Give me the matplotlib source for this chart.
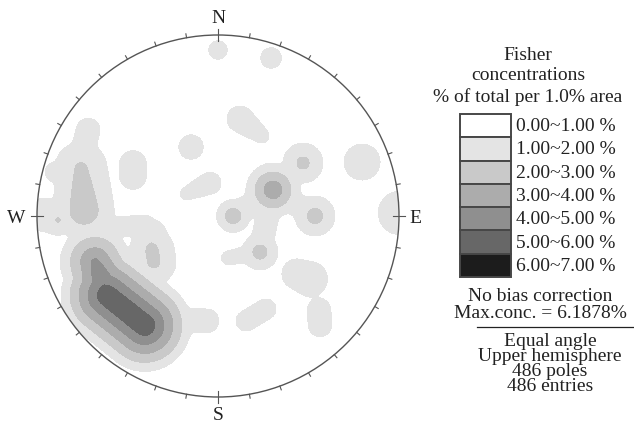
import numpy as np
import matplotlib
matplotlib.use("Agg")
import matplotlib.pyplot as plt
from matplotlib.patches import Circle, Rectangle
from matplotlib.lines import Line2D

# concentration axes read off the net, in unit-circle coordinates:
# each entry is a short axis (u0,v0)-(u1,v1), the peak % at each end and the reach
# of the density cone around it

# small isolated clusters
iso_u0 = [0.000, 0.293, 0.122, -0.149, -0.470, -0.044, 0.796, 1.006, 0.436, 0.265, 0.558]
iso_v0 = [0.917, 0.873, 0.536, 0.381, 0.287, 0.182, 0.298, 0.017, -0.320, -0.514, -0.519]
iso_u1 = [0.000, 0.293, 0.243, -0.149, -0.470, -0.177, 0.796, 1.006, 0.508, 0.155, 0.564]
iso_v1 = [0.917, 0.873, 0.442, 0.381, 0.221, 0.122, 0.298, 0.017, -0.348, -0.580, -0.602]
iso_p0 = [1.7, 1.7, 1.7, 1.7, 1.7, 1.7, 1.7, 1.7, 1.8, 1.65, 1.65]
iso_p1 = [1.7, 1.7, 1.3, 1.7, 1.7, 1.3, 1.7, 1.7, 2.08, 1.65, 1.65]
iso_reach = [0.127, 0.141, 0.177, 0.166, 0.182, 0.149, 0.243, 0.293, 0.188, 0.144, 0.166]

# eastern star-shaped group: centre, four spots, four arms and a tail
east_u0 = [0.304, 0.470, 0.536, 0.083, 0.232, 0.304, 0.304, 0.304, 0.304, 0.232]
east_v0 = [0.144, 0.293, 0.000, 0.000, -0.199, 0.144, 0.144, 0.144, 0.144, -0.199]
east_u1 = [0.304, 0.470, 0.536, 0.083, 0.232, 0.470, 0.536, 0.083, 0.232, 0.055]
east_v1 = [0.144, 0.293, 0.000, 0.000, -0.199, 0.293, 0.000, 0.000, -0.199, -0.232]
east_p0 = [4.0, 2.48, 2.67, 2.95, 2.71, 1.6, 1.6, 1.6, 1.6, 1.6]
east_p1 = [4.0, 2.48, 2.67, 2.95, 2.71, 1.6, 1.6, 1.6, 1.6, 1.4]
east_reach = [0.199, 0.185, 0.177, 0.138, 0.157, 0.166, 0.166, 0.166, 0.166, 0.133]

# western band
west_u0 = [-0.718, -0.718, -0.901, -0.956, -0.757, -0.884, -0.652]
west_v0 = [0.475, 0.475, 0.243, 0.006, 0.265, -0.022, -0.066]
west_u1 = [-0.718, -0.757, -0.901, -0.956, -0.740, -0.884, -0.403]
west_v1 = [0.475, 0.309, 0.243, 0.006, 0.033, -0.022, -0.050]
west_p0 = [1.5, 1.5, 1.5, 1.6, 2.3, 2.3, 1.5]
west_p1 = [1.5, 1.5, 1.5, 1.6, 2.9, 2.3, 1.5]
west_reach = [0.199, 0.199, 0.166, 0.249, 0.254, 0.150, 0.166]

# south-west maximum and its skirt
sw_u0 = [-0.613, -0.635, -0.376, -0.365, -0.210]
sw_v0 = [-0.439, -0.370, -0.110, -0.188, -0.575]
sw_u1 = [-0.405, -0.680, -0.365, -0.354, -0.061]
sw_v1 = [-0.604, -0.254, -0.188, -0.254, -0.580]
sw_p0 = [6.1, 5.2, 1.8, 2.4, 1.5]
sw_p1 = [6.15, 4.4, 2.4, 2.4, 1.5]
sw_reach = [0.304, 0.249, 0.210, 0.210, 0.199]

levels = [0, 1, 2, 3, 4, 5, 6, 7]
shades = ["#ffffff", "#e4e4e4", "#c9c9c9", "#acacac", "#8f8f8f", "#676767", "#1c1c1c"]
level_labels = ["0.00~1.00 %", "1.00~2.00 %", "2.00~3.00 %", "3.00~4.00 %",
                "4.00~5.00 %", "5.00~6.00 %", "6.00~7.00 %"]
cardinals = ["N", "E", "S", "W"]

u0 = np.array(iso_u0 + east_u0 + west_u0 + sw_u0)
v0 = np.array(iso_v0 + east_v0 + west_v0 + sw_v0)
u1 = np.array(iso_u1 + east_u1 + west_u1 + sw_u1)
v1 = np.array(iso_v1 + east_v1 + west_v1 + sw_v1)
p0 = np.array(iso_p0 + east_p0 + west_p0 + sw_p0)
p1 = np.array(iso_p1 + east_p1 + west_p1 + sw_p1)
reach = np.array(iso_reach + east_reach + west_reach + sw_reach)

# density grid: strongest cone wins, then a light smoothing
g = np.linspace(-1.03, 1.03, 620)
X, Y = np.meshgrid(g, g)
Z = np.zeros_like(X)
for a, b, c, d, pa, pb, r in zip(u0, v0, u1, v1, p0, p1, reach):
    du, dv = c - a, d - b
    L2 = du * du + dv * dv
    if L2 > 0:
        t = np.clip(((X - a) * du + (Y - b) * dv) / L2, 0, 1)
    else:
        t = np.zeros_like(X)
    dist = np.hypot(X - (a + t * du), Y - (b + t * dv))
    Z = np.maximum(Z, (pa + (pb - pa) * t) * np.clip(1 - dist / r, 0, None))

k = np.exp(-0.5 * (np.arange(-12, 13) / 4.0) ** 2)
k /= k.sum()
Z = np.apply_along_axis(lambda m: np.convolve(m, k, mode="same"), 0, Z)
Z = np.apply_along_axis(lambda m: np.convolve(m, k, mode="same"), 1, Z)

W, H = 634, 423
plt.rcParams["font.family"] = ["Liberation Serif", "DejaVu Serif"]
fig = plt.figure(figsize=(W / 100, H / 100), dpi=100)

def fx(x):
    return x / W

def fy(y):
    return 1 - y / H

# stereonet axes: centre (218,216), radius 181 px
cx, cy, R = 218, 216, 181
ax = fig.add_axes([fx(cx - R), fy(cy + R), 2 * R / W, 2 * R / H])
ax.set_xlim(-1, 1)
ax.set_ylim(-1, 1)
ax.axis("off")

rim = Circle((0, 0), 1, transform=ax.transData, facecolor="none")
cs = ax.contourf(X, Y, Z, levels=levels, colors=shades)
cs.set_clip_path(rim)

ax.add_patch(Circle((0, 0), 1, fill=False, edgecolor="#555555", lw=1.0, clip_on=False))

# 10 degree ticks
for a in range(0, 360, 10):
    t = np.radians(a)
    if a % 90 == 0:
        r0, r1 = 0.967, 1.035
    else:
        r0, r1 = 1.0, 1.022
    ax.add_line(Line2D([r0 * np.sin(t), r1 * np.sin(t)], [r0 * np.cos(t), r1 * np.cos(t)],
                       color="#555555", lw=0.8, clip_on=False))

ink = "#222222"
fs = 14
for lab, (x, y) in zip(cardinals, [(218, 23), (415, 222.5), (218, 420), (16.5, 222.5)]):
    fig.text(fx(x), fy(y), lab, ha="center", va="baseline", fontsize=fs, color=ink)

# legend panel (multi-line blocks are anchored on their last baseline)
fig.text(fx(528), fy(101.7), "Fisher\nconcentrations\n% of total per 1.0% area", ha="center",
         va="baseline", multialignment="center", fontsize=fs, color=ink, linespacing=1.25)

top, row = 114, 23.3
for i, (c, lab) in enumerate(zip(shades, level_labels)):
    y0 = top + i * row
    fig.patches.append(Rectangle((fx(460), fy(y0 + row)), 51 / W, row / H, transform=fig.transFigure,
                                 facecolor=c, edgecolor="#474747", lw=1.4))
    fig.text(fx(516), fy(y0 + 17), lab, ha="left", va="baseline", fontsize=fs, color=ink)

fig.text(fx(540), fy(318.3), "No bias correction\nMax.conc. = 6.1878%", ha="center", va="baseline",
         multialignment="center", fontsize=fs, color=ink, linespacing=0.99)
fig.add_artist(Line2D([fx(477), fx(633)], [fy(327.3), fy(327.3)], color=ink, lw=0.9))
fig.text(fx(550), fy(390.7), "Equal angle\nUpper hemisphere\n486 poles\n486 entries", ha="center",
         va="baseline", multialignment="center", fontsize=fs, color=ink, linespacing=0.83)

fig.savefig("out.png", dpi=100)
